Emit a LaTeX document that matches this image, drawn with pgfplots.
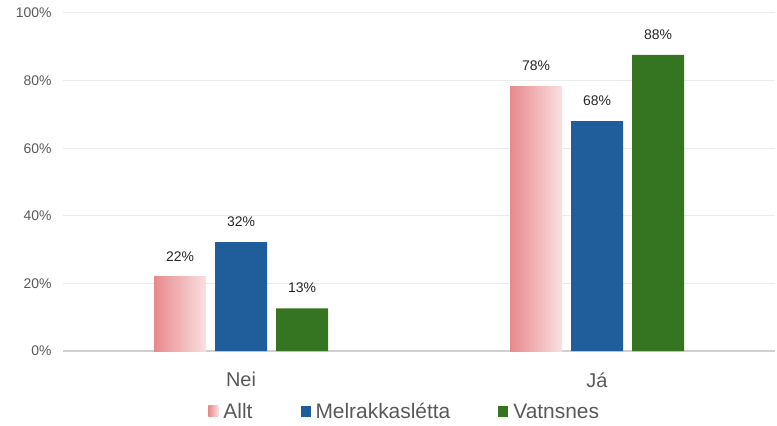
\documentclass[border=0pt]{standalone}
\usepackage{fontspec}
\setmainfont{Liberation Sans}
\usepackage{pgfplots}
\pgfplotsset{compat=1.18}
\definecolor{txtgray}{HTML}{595959}
\definecolor{gridgray}{HTML}{EBEBEB}
\definecolor{axgray}{HTML}{D0D0D0}
\definecolor{alltL}{HTML}{E8898C}
\definecolor{alltR}{HTML}{F8E0E0}
\definecolor{melblue}{HTML}{1F5E9A}
\definecolor{vatgreen}{HTML}{357421}

\begin{document}
\begin{tikzpicture}
\begin{axis}[
  scale only axis,
  width=712bp, height=338bp,
  xmin=-0.5, xmax=1.5,
  ymin=0, ymax=100,
  ybar,
  bar width=52bp,
  xtick={0,1},
  xticklabels={Nei, Já},
  ytick={0,20,...,100},
  yticklabel={\pgfmathprintnumber[assume math mode=true]{\tick}\%},
  ymajorgrids=true,
  grid style={gridgray, line width=1bp},
  axis line style={draw=none},
  major tick length=0pt,
  extra y ticks={0},
  extra y tick labels={},
  extra y tick style={grid style={axgray, line width=1.2bp}},
  yticklabel style={font=\fontsize{14}{16}\selectfont, text=txtgray, xshift=-8bp},
  xticklabel style={font=\fontsize{20}{22}\selectfont, text=txtgray, yshift=-18bp},
  nodes near coords={\pgfmathprintnumber[fixed,precision=0,assume math mode=true]{\pgfplotspointmeta}\%},
  every node near coord/.append style={font=\fontsize{14}{16}\selectfont, text=black!85, yshift=12bp},
  legend columns=3,
  legend style={at={(0.48,-0.18)}, anchor=center, draw=none, fill=none,
    font=\fontsize{21}{23}\selectfont, text=txtgray,
    /tikz/every odd column/.append style={column sep=3bp},
    /tikz/every even column/.append style={column sep=46bp}},
  legend image code/.code={\draw[#1, draw=none] (0bp,-5bp) rectangle (10bp,6bp);},
  clip=false,
]
% Allt: one plot per bar so each bar gets its own gradient
\addplot[draw=none, bar shift=-61bp, left color=alltL, right color=alltR, shading angle=90] coordinates {(0,21.9)};
\addplot[draw=none, bar shift=-61bp, left color=alltL, right color=alltR, shading angle=90, forget plot] coordinates {(1,78.4)};
\addplot[draw=none, bar shift=0bp, fill=melblue] coordinates {(0,32.2) (1,68.0)};
\addplot[draw=none, bar shift=61bp, fill=vatgreen] coordinates {(0,12.6) (1,87.6)};
\legend{Allt, Melrakkasl\'etta, Vatnsnes}
\end{axis}
\path[use as bounding box] ([xshift=-63bp, yshift=-75bp]current axis.south west) rectangle ([xshift=2bp, yshift=13bp]current axis.north east);
\end{tikzpicture}
\end{document}
